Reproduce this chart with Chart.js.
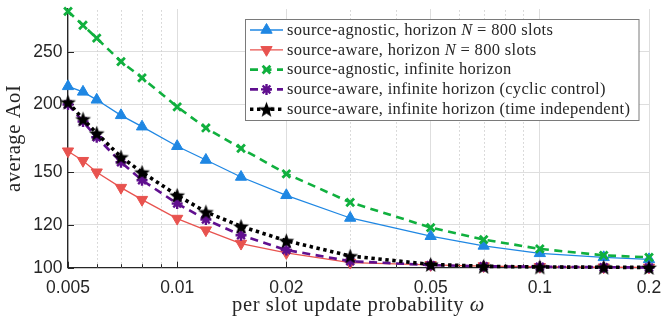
<!DOCTYPE html>
<html>
<head>
<meta charset="utf-8">
<script src="https://cdn.jsdelivr.net/npm/chart.js@4/dist/chart.umd.min.js"></script>
<style>
html,body{margin:0;padding:0;background:#fff;}
#wrap{width:662px;height:321px;position:relative;}
canvas{display:block;}
</style>
</head>
<body>
<div id="wrap"><canvas id="c" width="662" height="321"></canvas></div>
<script>
// ---------- data ----------
const omega = [0.005, 0.0055, 0.006, 0.007, 0.008, 0.01, 0.012, 0.015, 0.02, 0.03, 0.05, 0.07, 0.1, 0.15, 0.2];
const agnosticN800 = [216, 211, 204, 191, 182, 167.5, 158, 147, 136, 123.5, 114.3, 109.7, 106.3, 104.5, 103.6];
const awareN800    = [164, 157.5, 150, 140.5, 133.5, 123.2, 117.3, 110.8, 106.5, 102.2, 101.2, 100.7, 100.4, 100.2, 100.1];
const agnosticInf  = [297, 280, 265, 240, 224, 198, 181, 166, 149, 132, 118.6, 112.7, 108.3, 105.4, 104.5];
const awareInfCyclic = [200, 186, 174, 156.5, 145, 131.3, 122.7, 114.8, 107.8, 102.8, 101.1, 100.6, 100.4, 100.2, 100.1];
const awareInfTimeIndep = [202, 188, 177, 160, 150, 136, 126.7, 119.2, 112.1, 105.1, 101.4, 100.6, 100.3, 100.2, 100.1];

const xMajorTicks  = [0.005, 0.01, 0.02, 0.05, 0.1, 0.2];
const xMajorLabels = ['0.005', '0.01', '0.02', '0.05', '0.1', '0.2'];
const xMinorTicks  = [0.006, 0.007, 0.008, 0.009, 0.03, 0.04, 0.06, 0.07, 0.08, 0.09];
const yTicks       = [100, 120, 150, 200, 250];
const yTickLabels  = ['100', '120', '150', '200', '250'];

// legend labels as text runs: [text, italic]
const legendLabels = [
  [['source-agnostic, horizon ', false], ['N', true], [' = 800 slots', false]],
  [['source-aware, horizon ', false], ['N', true], [' = 800 slots', false]],
  [['source-agnostic, infinite horizon', false]],
  [['source-aware, infinite horizon (cyclic control)', false]],
  [['source-aware, infinite horizon (time independent)', false]]
];
const xTitleRuns = [['per slot update probability ', false], ['ω', true]];
const yTitle = 'average AoI';

// ---------- styles ----------
const BLUE = '#1f87e3', RED = '#e8534f', GREEN = '#10b03e', PURPLE = '#600f8f', BLACK = '#000000';
const SERIF = '"Liberation Serif", "Times New Roman", serif';
const SANS = '"Liberation Sans", Arial, sans-serif';

// filled five-point star marker
function makeStar(R, color) {
  const s = Math.ceil(R * 2 + 2);
  const c = document.createElement('canvas');
  c.width = s; c.height = s;
  const g = c.getContext('2d');
  const r = R * 0.42;
  g.beginPath();
  for (let i = 0; i < 10; i++) {
    const rad = (i % 2 === 0) ? R : r;
    const a = -Math.PI / 2 + i * Math.PI / 5;
    const px = s / 2 + rad * Math.cos(a), py = s / 2 + rad * Math.sin(a) + R * 0.1;
    if (i === 0) g.moveTo(px, py); else g.lineTo(px, py);
  }
  g.closePath();
  g.fillStyle = color; g.fill();
  return c;
}
const starImg = makeStar(8.3, BLACK);

const pts = ys => omega.map((x, i) => ({x: x, y: ys[i]}));

const datasets = [
  {data: pts(agnosticN800), borderColor: BLUE, backgroundColor: BLUE, pointBackgroundColor: BLUE, pointBorderColor: BLUE,
   borderWidth: 1.3, pointStyle: 'triangle', pointRadius: 6.5, pointBorderWidth: 1, order: 5},
  {data: pts(awareN800), borderColor: RED, backgroundColor: RED, pointBackgroundColor: RED, pointBorderColor: RED,
   borderWidth: 1.3, pointStyle: 'triangle', pointRotation: 180, pointRadius: 6.5, pointBorderWidth: 1, order: 4},
  {data: pts(agnosticInf), borderColor: GREEN, backgroundColor: GREEN, pointBackgroundColor: GREEN, pointBorderColor: GREEN,
   borderWidth: 2.6, borderDash: [8, 5.5], pointStyle: 'crossRot', pointRadius: 5.5, pointBorderWidth: 2.8, order: 3},
  {data: pts(awareInfCyclic), borderColor: PURPLE, backgroundColor: PURPLE, pointBackgroundColor: PURPLE, pointBorderColor: PURPLE,
   borderWidth: 2.6, borderDash: [8, 5.5], pointStyle: 'star', pointRadius: 5.5, pointBorderWidth: 2.4, order: 2},
  {data: pts(awareInfTimeIndep), borderColor: BLACK, backgroundColor: BLACK, pointBackgroundColor: BLACK, pointBorderColor: BLACK,
   borderWidth: 3.6, borderDash: [3.4, 3.6], pointStyle: starImg, pointRadius: 8, pointBorderWidth: 0, order: 1}
].map(d => Object.assign({tension: 0, fill: false, clip: false, borderCapStyle: 'butt'}, d));

// text runs with explicit letter spacing (width computed without relying on measureText spacing support)
function drawRuns(ctx, runs, size, spacing, x, y, align) {
  const fontFor = it => (it ? 'italic ' : '') + size + 'px ' + SERIF;
  const widthOf = t => { ctx.letterSpacing = '0px'; const w = ctx.measureText(t).width; return w + spacing * [...t].length; };
  let total = 0;
  runs.forEach(([t, it]) => { ctx.font = fontFor(it); total += widthOf(t); });
  let cx = align === 'center' ? x - total / 2 : x;
  ctx.textAlign = 'left';
  runs.forEach(([t, it]) => {
    ctx.font = fontFor(it);
    const w = widthOf(t);
    ctx.letterSpacing = spacing + 'px';
    ctx.fillText(t, cx, y);
    cx += w;
  });
  ctx.letterSpacing = '0px';
}

const decor = {
  id: 'decor',
  beforeDatasetsDraw(chart) {
    const {ctx, chartArea: a, scales: {x, y}} = chart;
    ctx.save();
    // minor dotted grid
    ctx.strokeStyle = '#cfcfcf'; ctx.lineWidth = 1; ctx.setLineDash([1.5, 2.5]);
    xMinorTicks.forEach(v => {
      const px = Math.round(x.getPixelForValue(v)) + 0.5;
      ctx.beginPath(); ctx.moveTo(px, a.bottom); ctx.lineTo(px, a.top); ctx.stroke();
    });
    ctx.setLineDash([]);
    // inward tick marks
    ctx.strokeStyle = '#262626'; ctx.lineWidth = 1;
    xMajorTicks.forEach(v => {
      const px = Math.round(x.getPixelForValue(v)) + 0.5;
      ctx.beginPath(); ctx.moveTo(px, a.bottom); ctx.lineTo(px, a.bottom - 6); ctx.stroke();
    });
    xMinorTicks.forEach(v => {
      const px = Math.round(x.getPixelForValue(v)) + 0.5;
      ctx.beginPath(); ctx.moveTo(px, a.bottom); ctx.lineTo(px, a.bottom - 3.5); ctx.stroke();
    });
    yTicks.forEach(v => {
      const py = Math.round(y.getPixelForValue(v)) + 0.5;
      ctx.beginPath(); ctx.moveTo(a.left, py); ctx.lineTo(a.left + 6, py); ctx.stroke();
    });
    ctx.restore();
  },
  afterDraw(chart) {
    const {ctx, chartArea: a} = chart;
    ctx.save();
    ctx.fillStyle = '#262626';
    ctx.textBaseline = 'alphabetic';
    // x title
    drawRuns(ctx, xTitleRuns, 20.5, 0.6, (a.left + a.right) / 2, 311, 'center');
    // y title
    ctx.save();
    ctx.translate(20, (a.top + a.bottom) / 2);
    ctx.rotate(-Math.PI / 2);
    drawRuns(ctx, [[yTitle, false]], 20.5, 0.6, 0, 0, 'center');
    ctx.restore();

    // legend
    const L = {x: 245.5, y: 19.5, w: 393.5, h: 101};
    ctx.fillStyle = '#ffffff'; ctx.fillRect(L.x, L.y, L.w, L.h);
    ctx.strokeStyle = '#7a7a7a'; ctx.lineWidth = 1; ctx.strokeRect(L.x, L.y, L.w, L.h);
    const sets = chart.data.datasets;
    for (let i = 0; i < sets.length; i++) {
      const ds = sets[i];
      const yy = 30 + i * 19.8;
      ctx.save();
      ctx.strokeStyle = ds.borderColor; ctx.lineWidth = ds.borderWidth;
      ctx.setLineDash(ds.borderDash || []); ctx.lineCap = 'butt';
      ctx.beginPath(); ctx.moveTo(250, yy); ctx.lineTo(283, yy); ctx.stroke();
      ctx.setLineDash([]);
      ctx.fillStyle = ds.pointBackgroundColor; ctx.strokeStyle = ds.pointBorderColor;
      if (typeof ds.pointStyle === 'object') {
        const im = ds.pointStyle;
        ctx.drawImage(im, 266.5 - im.width / 2, yy - im.height / 2);
      } else {
        ctx.lineWidth = ds.pointBorderWidth;
        Chart.helpers.drawPoint(ctx, {pointStyle: ds.pointStyle, rotation: ds.pointRotation || 0,
          radius: ds.pointRadius, borderWidth: ds.pointBorderWidth}, 266.5, yy);
      }
      ctx.restore();
      ctx.fillStyle = '#262626'; ctx.textBaseline = 'middle';
      drawRuns(ctx, legendLabels[i], 16.5, 0.32, 287, yy + 0.5, 'left');
    }
    ctx.restore();
  }
};

new Chart(document.getElementById('c'), {
  type: 'line',
  data: {datasets: datasets},
  plugins: [decor],
  options: {
    responsive: false, animation: false, devicePixelRatio: 1,
    layout: {padding: {top: 9, right: 13, left: 0, bottom: 0}},
    plugins: {legend: {display: false}, tooltip: {enabled: false}},
    scales: {
      x: {
        type: 'logarithmic', min: 0.005, max: 0.2,
        afterBuildTicks: s => { s.ticks = xMajorTicks.map(v => ({value: v})); },
        afterFit: s => { s.height = 53.3; s.paddingLeft = 0; s.paddingRight = 0; },
        ticks: {autoSkip: false, maxRotation: 0, minRotation: 0, padding: 10, color: '#262626',
          font: {family: SANS, size: 17.5},
          callback: v => { const i = xMajorTicks.indexOf(v); return i >= 0 ? xMajorLabels[i] : ''; }},
        grid: {color: '#dedede', lineWidth: 1, drawTicks: false},
        border: {color: '#262626', width: 1.3}
      },
      y: {
        type: 'logarithmic', min: 100, max: 300,
        afterBuildTicks: s => { s.ticks = yTicks.map(v => ({value: v})); },
        afterFit: s => { s.width = 68; s.paddingTop = 0; s.paddingBottom = 0; },
        ticks: {autoSkip: false, padding: 5.5, color: '#262626',
          font: {family: SANS, size: 17.5},
          callback: v => { const i = yTicks.indexOf(v); return i >= 0 ? yTickLabels[i] : ''; }},
        grid: {color: '#dedede', lineWidth: 1, drawTicks: false},
        border: {color: '#262626', width: 1.3}
      }
    }
  }
});
</script>
</body>
</html>
